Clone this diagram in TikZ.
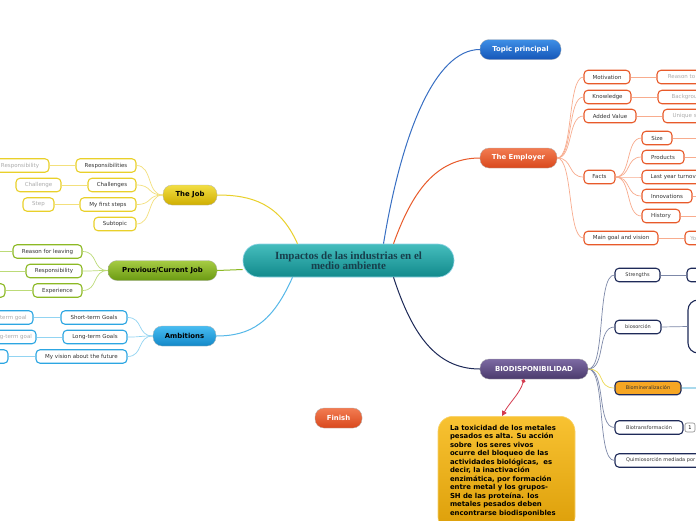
\documentclass[tikz,border=0pt]{standalone}
\usepackage{fontspec}
\setmainfont{Liberation Serif}
\setsansfont{DejaVu Sans}
\usepackage{xcolor}
\usetikzlibrary{positioning, arrows.meta}
\definecolor{tealtop}{HTML}{45BDBD}
\definecolor{tealbot}{HTML}{128A8C}
\definecolor{tealedge}{HTML}{8ED3E6}
\definecolor{tealtext}{HTML}{173F4C}
\definecolor{bluetop}{HTML}{3E8FE6}
\definecolor{bluebot}{HTML}{1556B8}
\definecolor{redtop}{HTML}{F27C52}
\definecolor{redbot}{HTML}{D9481C}
\definecolor{purptop}{HTML}{7D6AA3}
\definecolor{purpbot}{HTML}{4A3A6C}
\definecolor{yeltop}{HTML}{F2DE44}
\definecolor{yelbot}{HTML}{CFAE00}
\definecolor{greentop}{HTML}{A6CC44}
\definecolor{greenbot}{HTML}{6A9A12}
\definecolor{skytop}{HTML}{48BDF2}
\definecolor{skybot}{HTML}{1388C8}
\definecolor{goldtop}{HTML}{F8C232}
\definecolor{goldbot}{HTML}{DC9E08}
\definecolor{goldedge}{HTML}{F9D36A}
\definecolor{jobedge}{HTML}{E9D02A}
\definecolor{jobline}{HTML}{F3E07C}
\definecolor{prevedge}{HTML}{8CB924}
\definecolor{prevline}{HTML}{BCDB78}
\definecolor{skyedge}{HTML}{2CA6E2}
\definecolor{skyline}{HTML}{92D4F2}
\definecolor{empedge}{HTML}{E85A2A}
\definecolor{empline}{HTML}{F8AC8E}
\definecolor{bioedge}{HTML}{1E2A58}
\definecolor{bioline}{HTML}{7D88A8}
\definecolor{minfill}{HTML}{F6A623}
\definecolor{minline}{HTML}{A9D9EC}
\definecolor{leaftext}{HTML}{333333}
\definecolor{subtext}{HTML}{ABABAB}
\definecolor{notered}{HTML}{D43A4E}

\tikzset{
  centre/.style={draw=tealedge, line width=0.6pt, top color=tealtop, bottom color=tealbot,
    rounded corners=16pt, minimum width=211pt, minimum height=33pt, inner sep=0pt,
    align=center, text=tealtext, font=\bfseries\fontsize{11}{10}\selectfont},
  branch/.style={draw=white!70!black, line width=0.3pt, rounded corners=9pt,
    minimum height=20pt, inner sep=0pt, text=white,
    font=\sffamily\bfseries\fontsize{6.9}{7}\selectfont},
  leaf/.style={draw=#1, fill=white, line width=1.1pt, rounded corners=4pt,
    minimum height=13.5pt, inner sep=0pt, text=leaftext,
    font=\sffamily\fontsize{5.5}{6}\selectfont},
  subleaf/.style={leaf=#1, text=subtext},
  bioleaf/.style={leaf=bioedge, font=\sffamily\fontsize{5}{6}\selectfont},
  fan/.style={draw=#1, line width=0.7pt},
}

\begin{document}
\begin{tikzpicture}[x=1pt, y=-1pt]
  \useasboundingbox (0,0) rectangle (696,520);
  \fill[white] (0,0) rectangle (696,520);

  % main topic and branches
  \node[centre] (topic) at (348.5,260.5) {Impactos de las industrias en el\\medio ambiente};
  \node[branch, top color=bluetop, bottom color=bluebot, minimum width=81pt] (principal) at (520.5,49.5) {Topic principal};
  \node[branch, top color=redtop, bottom color=redbot, minimum width=77pt] (employer) at (518.5,158) {The Employer};
  \node[branch, top color=purptop, bottom color=purpbot, minimum width=108pt] (bio) at (534,369) {BIODISPONIBILIDAD};
  \node[branch, top color=yeltop, bottom color=yelbot, minimum width=54pt, text=black] (job) at (190,195) {The Job};
  \node[branch, top color=greentop, bottom color=greenbot, minimum width=109pt, text=black] (prevjob) at (162.5,270.5) {Previous/Current Job};
  \node[branch, top color=skytop, bottom color=skybot, minimum width=63pt, text=black] (ambit) at (184.5,336) {Ambitions};
  \node[branch, top color=redtop, bottom color=redbot, minimum width=47pt] (finish) at (338.5,418) {Finish};

  % The Job
  \node[leaf=jobedge, minimum width=60pt] (job-resp) at (106,165.5) {Responsibilities};
  \node[leaf=jobedge, minimum width=48pt] (job-chal) at (112,185) {Challenges};
  \node[leaf=jobedge, minimum width=56pt] (job-steps) at (108,204.5) {My first steps};
  \node[leaf=jobedge, minimum width=42pt] (job-sub) at (115,224) {Subtopic};
  \node[subleaf=jobedge, minimum width=58pt] (job-resp-a) at (20,165.5) {Responsibility};
  \node[subleaf=jobedge, minimum width=45pt] (job-chal-a) at (38.5,185) {Challenge};
  \node[subleaf=jobedge, minimum width=31pt] (job-steps-a) at (38.5,204.5) {Step};

  % Previous/Current Job
  \node[leaf=prevedge, minimum width=69pt] (prev-leave) at (47.5,251.5) {Reason for leaving};
  \node[leaf=prevedge, minimum width=56pt] (prev-resp) at (54,271) {Responsibility};
  \node[leaf=prevedge, minimum width=49pt] (prev-exp) at (57.5,290.5) {Experience};
  \coordinate (prev-leave-a) at (-10,251.5);
  \coordinate (prev-resp-a) at (-10,271);
  \node[subleaf=prevedge, minimum width=50pt] (prev-exp-a) at (-20,290.5) {};

  % Ambitions
  \node[leaf=skyedge, minimum width=66pt] (amb-short) at (94,317.5) {Short-term Goals};
  \node[leaf=skyedge, minimum width=64pt] (amb-long) at (95,337) {Long-term Goals};
  \node[leaf=skyedge, minimum width=91pt] (amb-vision) at (81.5,356.5) {My vision about the future};
  \node[subleaf=skyedge, minimum width=56pt] (amb-short-a) at (5,317.5) {Short-term goal};
  \node[subleaf=skyedge, minimum width=50pt] (amb-long-a) at (11,337) {Long-term goal};
  \node[subleaf=skyedge, minimum width=46pt] (amb-vision-a) at (-15,356.5) {};

  % The Employer
  \node[leaf=empedge, minimum width=46pt] (emp-mot) at (607,77) {Motivation};
  \node[leaf=empedge, minimum width=47pt] (emp-know) at (607.5,97) {Knowledge};
  \node[leaf=empedge, minimum width=52pt] (emp-added) at (610,116) {Added Value};
  \node[leaf=empedge, minimum width=31pt] (emp-facts) at (599.5,177) {Facts};
  \node[leaf=empedge, minimum width=74pt] (emp-goal) at (621,238) {Main goal and vision};
  \node[subleaf=empedge, minimum width=66pt] (emp-mot-a) at (690,77) {Reason to apply};
  \node[subleaf=empedge, minimum width=60pt] (emp-know-a) at (688,97) {Background};
  \node[subleaf=empedge, minimum width=74pt] (emp-added-a) at (700,116) {Unique selling point};
  \node[subleaf=empedge, minimum width=40pt] (emp-goal-a) at (705,238) {Your vision};
  \node[leaf=empedge, minimum width=30pt] (fact-size) at (657,138) {Size};
  \node[leaf=empedge, minimum width=42pt] (fact-prod) at (663,157) {Products};
  \node[leaf=empedge, minimum width=68pt] (fact-turn) at (676,177) {Last year turnover};
  \node[leaf=empedge, minimum width=50pt] (fact-innov) at (667,196) {Innovations};
  \node[leaf=empedge, minimum width=38pt] (fact-hist) at (661,216) {History};
  \coordinate (fact-size-a) at (710,138);
  \coordinate (fact-prod-a) at (710,157);
  \coordinate (fact-innov-a) at (710,196);
  \coordinate (fact-hist-a) at (710,216);

  % BIODISPONIBILIDAD
  \node[bioleaf, minimum width=45pt] (bio-str) at (637.5,275) {Strengths};
  \node[bioleaf, minimum width=46pt] (bio-sorc) at (638,327) {biosorción};
  \node[bioleaf, fill=minfill, text=black!80, minimum width=66pt] (bio-min) at (648,388) {Biomineralización};
  \node[bioleaf, minimum width=68pt] (bio-trans) at (649,427.5) {Biotransformación};
  \node[bioleaf, minimum width=116pt] (bio-quim) at (673,460.5) {Quimiosorción mediada por bacterias};
  \node[bioleaf, minimum width=46pt] (bio-str-a) at (710,275) {};
  \node[bioleaf, rounded corners=10pt, minimum width=64pt, minimum height=53pt] (bio-sorc-a) at (720,326.5) {};
  \coordinate (bio-min-a) at (710,388);
  \node[draw=black!45, fill=white, line width=0.6pt, rounded corners=2pt, minimum width=10pt,
        minimum height=9pt, inner sep=0pt, font=\sffamily\fontsize{5}{5}\selectfont] (bio-tag) at (690,427.5) {1};

  % note under BIODISPONIBILIDAD
  \node[draw=goldedge, line width=0.6pt, top color=goldtop, bottom color=goldbot, rounded corners=15pt,
        anchor=north, text width=113pt, inner xsep=12pt, inner ysep=8.5pt, align=left,
        font=\sffamily\bfseries\fontsize{6.9}{8.5}\selectfont] (toxnote) at (506.5,416) {%
    La toxicidad de los metales\\ pesados es alta. Su acción\\ sobre~ los seres vivos\\
    ocurre del bloqueo de las\\ actividades biológicas,~ es\\ decir, la inactivación\\
    enzimática, por formación\\ entre metal y los grupos-\\ SH de las proteína. los\\
    metales pesados deben\\ encontrarse biodisponibles\\ \mbox{}};

  % connectors from the main topic
  \draw[line width=1pt, draw=bluebot!85] ([xshift=35pt]topic.north) .. controls +(18,-110) and +(-45,0) .. (principal.west);
  \draw[line width=1pt, draw=empedge] ([xshift=45pt]topic.north) .. controls +(18,-50) and +(-45,0) .. (employer.west);
  \draw[line width=1pt, draw=bioedge] ([xshift=45pt]topic.south) .. controls +(18,55) and +(-45,0) .. (bio.west);
  \draw[line width=1pt, draw=jobedge] ([xshift=-51pt]topic.north) .. controls +(-18,-40) and +(35,0) .. (job.east);
  \draw[line width=1pt, draw=prevedge] ([yshift=-9pt]topic.west) -- (prevjob.east);
  \draw[line width=1pt, draw=skyedge!80] ([xshift=-56pt]topic.south) .. controls +(-20,45) and +(35,0) .. (ambit.east);

  % fans
  \foreach \n in {job-resp, job-chal, job-steps, job-sub}
    \draw[fan=jobline] (job.west) .. controls +(-16,0) and +(16,0) .. (\n.east);
  \foreach \n in {job-resp, job-chal, job-steps}
    \draw[fan=jobline] (\n.west) -- (\n-a.east);
  \foreach \n in {prev-leave, prev-resp, prev-exp}
    \draw[fan=prevline] (prevjob.west) .. controls +(-16,0) and +(16,0) .. (\n.east);
  \foreach \n in {prev-leave, prev-resp, prev-exp}
    \draw[fan=prevline] (\n.west) -- (\n-a.east);
  \foreach \n in {amb-short, amb-long, amb-vision}
    \draw[fan=skyline] (ambit.west) .. controls +(-16,0) and +(16,0) .. (\n.east);
  \foreach \n in {amb-short, amb-long, amb-vision}
    \draw[fan=skyline] (\n.west) -- (\n-a.east);
  \foreach \n in {emp-mot, emp-know, emp-added, emp-facts, emp-goal}
    \draw[fan=empline] (employer.east) .. controls +(16,0) and +(-16,0) .. (\n.west);
  \foreach \n in {emp-mot, emp-know, emp-added, emp-goal}
    \draw[fan=empline] (\n.east) -- (\n-a.west);
  \foreach \n in {fact-size, fact-prod, fact-turn, fact-innov, fact-hist}
    \draw[fan=empline] (emp-facts.east) .. controls +(16,0) and +(-16,0) .. (\n.west);
  \foreach \n in {fact-size, fact-prod, fact-innov, fact-hist}
    \draw[fan=empline] (\n.east) -- (\n-a);
  \foreach \n in {bio-str, bio-sorc, bio-trans, bio-quim}
    \draw[fan=bioline] (bio.east) .. controls +(18,0) and +(-18,0) .. (\n.west);
  \draw[fan=jobedge!80] (bio.east) .. controls +(18,0) and +(-18,0) .. (bio-min.west);
  \draw[fan=bioline] (bio-str.east) -- (bio-str-a.west);
  \draw[fan=bioline] (bio-sorc.east) -- (bio-sorc-a.west);
  \draw[draw=minline, line width=1.5pt] (bio-min.east) -- (bio-min-a);

  % note arrow
  \draw[draw=notered, line width=0.8pt, {Circle[length=4pt]}-{Triangle[length=5pt, width=5pt]}]
    ([xshift=-10pt]bio.south) .. controls +(-4,14) and +(8,-14) .. ([xshift=-4.5pt]toxnote.north);
\end{tikzpicture}
\end{document}
